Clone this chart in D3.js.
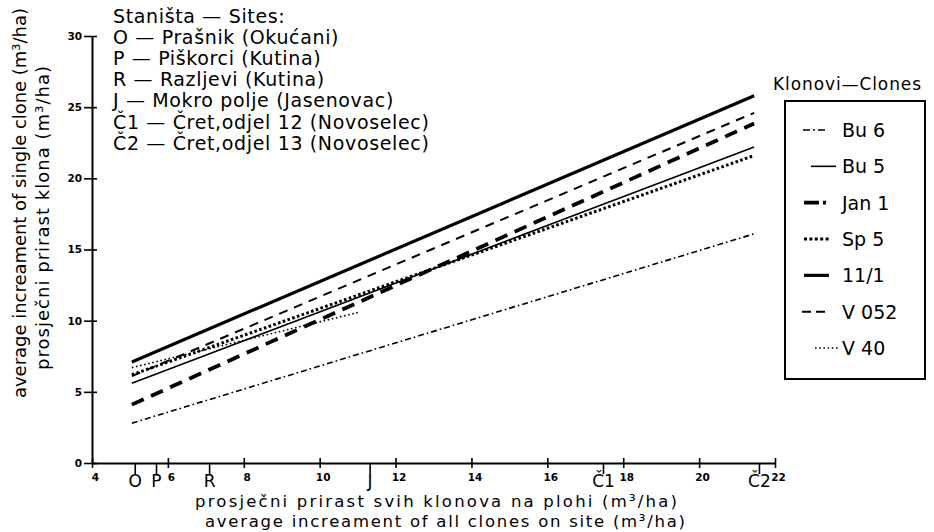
<!DOCTYPE html>
<html>
<head>
<meta charset="utf-8">
<script src="https://cdn.jsdelivr.net/npm/d3@7/dist/d3.min.js"></script>
<style>
  html, body { margin: 0; padding: 0; background: #fff; }
  svg { display: block; }
  text { font-family: "DejaVu Sans", sans-serif; fill: #000; }
</style>
</head>
<body>
<svg id="chart" width="934" height="532"></svg>
<script>
// ---- data ----
const clones = ["Bu 6", "Bu 5", "Jan 1", "Sp 5", "11/1", "V 052", "V 40"];
const startX = [5.05, 5.05, 5.05, 5.05, 5.05, 5.05, 5.05];
const endX   = [21.45, 21.45, 21.45, 21.45, 21.45, 21.45, 11.05];
const startY = [2.8, 5.6, 4.1, 6.2, 7.1, 6.1, 6.7];
const endY   = [16.1, 22.2, 23.85, 21.6, 25.8, 24.6, 10.6];

const xTicks = [4, 6, 8, 10, 12, 14, 16, 18, 20, 22];
const yTicks = [0, 5, 10, 15, 20, 25, 30];
const siteCodes = ["O", "P", "R", "J", "Č1", "Č2"];
const siteX = [5.14, 5.7, 7.1, 11.33, 17.48, 21.59];
const siteNames = [
  "Staništa — Sites:",
  "O — Prašnik (Okućani)",
  "P — Piškorci (Kutina)",
  "R — Razljevi (Kutina)",
  "J — Mokro polje (Jasenovac)",
  "Č1 — Čret,odjel 12 (Novoselec)",
  "Č2 — Čret,odjel 13 (Novoselec)"
];

// ---- styles ----
const styles = {
  "Bu 6":  { w: 1.6, dash: "6,3,1.6,3" },
  "Bu 5":  { w: 1.6, dash: null },
  "Jan 1": { w: 3.8, dash: "13,8" },
  "Sp 5":  { w: 3.0, dash: "2.6,2.4" },
  "11/1":  { w: 3.2, dash: null },
  "V 052": { w: 2.0, dash: "9,7" },
  "V 40":  { w: 1.6, dash: "1.6,2.6" }
};
const legendSample = {
  "Bu 6":  { x1: 803, dash: "7,3,2,3" },
  "Bu 5":  { x1: 811, dash: null },
  "Jan 1": { x1: 804, dash: "15,4,3,4" },
  "Sp 5":  { x1: 804, dash: "3,2.4" },
  "11/1":  { x1: 804, dash: null },
  "V 052": { x1: 802, dash: "9,5" },
  "V 40":  { x1: 815, dash: "1.6,2.6" }
};

const svg = d3.select("#chart");
const x = d3.scaleLinear().domain([4, 22]).range([92, 775]);
const y = d3.scaleLinear().domain([0, 30]).range([463, 36]);

// ---- axes ----
const yAxis = d3.axisLeft(y).tickValues(yTicks).tickSizeInner(8).tickSizeOuter(0).tickPadding(2);
const gy = svg.append("g").attr("transform", `translate(${x(4)},0)`).call(yAxis);
gy.select(".domain").attr("stroke", "#000").attr("stroke-width", 2);
gy.selectAll(".tick line").attr("stroke", "#000").attr("stroke-width", 1.6).attr("x2", -8).attr("x1", 5);
gy.selectAll(".tick text").attr("font-size", 10.5).attr("font-weight", "bold")
  .attr("font-family", "DejaVu Sans").attr("fill", "#000");

const xAxis = d3.axisBottom(x).tickValues(xTicks).tickSizeInner(5).tickSizeOuter(0).tickPadding(6);
const gx = svg.append("g").attr("transform", `translate(0,${y(0)})`).call(xAxis);
gx.select(".domain").attr("stroke", "#000").attr("stroke-width", 2);
gx.selectAll(".tick line").attr("stroke", "#000").attr("stroke-width", 1.6).attr("y1", -5).attr("y2", 5);
gx.selectAll(".tick text").attr("font-size", 10.5).attr("font-weight", "bold")
  .attr("font-family", "DejaVu Sans").attr("fill", "#000").attr("dx", 3);

// site ticks
const sites = svg.append("g");
siteCodes.forEach((s, i) => {
  sites.append("line")
    .attr("x1", x(siteX[i])).attr("x2", x(siteX[i]))
    .attr("y1", y(0)).attr("y2", y(0) + 11)
    .attr("stroke", "#000").attr("stroke-width", 1.6);
  sites.append("text")
    .attr("x", x(siteX[i])).attr("y", y(0) + 24)
    .attr("text-anchor", "middle").attr("font-size", 17)
    .text(s);
});

// ---- lines ----
const lineGen = d3.line().x(d => x(d[0])).y(d => y(d[1]));
const lg = svg.append("g").attr("fill", "none");
clones.forEach((c, i) => {
  const st = styles[c];
  lg.append("path")
    .datum([[startX[i], startY[i]], [endX[i], endY[i]]])
    .attr("d", lineGen)
    .attr("stroke", "#000")
    .attr("stroke-width", st.w)
    .attr("stroke-dasharray", st.dash)
    .attr("fill", "none");
});

// ---- site list ----
const siteList = svg.append("g");
siteNames.forEach((t, i) => {
  siteList.append("text")
    .attr("x", 113).attr("y", 23 + i * 21.1)
    .attr("font-size", 19).attr("letter-spacing", 0.65)
    .text(t);
});

// ---- axis titles ----
svg.append("text")
  .attr("transform", "translate(26,203) rotate(-90)")
  .attr("text-anchor", "middle").attr("font-size", 18)
  .attr("textLength", 390).attr("lengthAdjust", "spacing")
  .text("average increament of single clone (m³/ha)");
svg.append("text")
  .attr("transform", "translate(49,218) rotate(-90)")
  .attr("text-anchor", "middle").attr("font-size", 18)
  .attr("textLength", 304).attr("lengthAdjust", "spacing")
  .text("prosječni prirast klona (m³/ha)");
svg.append("text")
  .attr("x", 436).attr("y", 507)
  .attr("text-anchor", "middle").attr("font-size", 16.5)
  .attr("textLength", 482).attr("lengthAdjust", "spacing")
  .text("prosječni prirast svih klonova na plohi (m³/ha)");
svg.append("text")
  .attr("x", 445).attr("y", 527)
  .attr("text-anchor", "middle").attr("font-size", 16.5)
  .attr("textLength", 480).attr("lengthAdjust", "spacing")
  .text("average increament of all clones on site (m³/ha)");

// ---- legend ----
const leg = svg.append("g");
leg.append("text").attr("x", 773).attr("y", 90)
  .attr("font-size", 17).attr("letter-spacing", 0.9)
  .text("Klonovi—Clones");
leg.append("rect").attr("x", 785).attr("y", 101).attr("width", 140).attr("height", 278)
  .attr("fill", "none").attr("stroke", "#000").attr("stroke-width", 2);
const legY = d3.scalePoint().domain(clones).range([130, 348]);
clones.forEach((c) => {
  const yy = legY(c);
  const ls = legendSample[c];
  leg.append("line")
    .attr("x1", ls.x1).attr("x2", ls.x1 + 25).attr("y1", yy).attr("y2", yy)
    .attr("stroke", "#000").attr("stroke-width", styles[c].w)
    .attr("stroke-dasharray", ls.dash);
  leg.append("text").attr("x", 842).attr("y", yy + 7)
    .attr("font-size", 19)
    .text(c);
});
</script>
</body>
</html>
